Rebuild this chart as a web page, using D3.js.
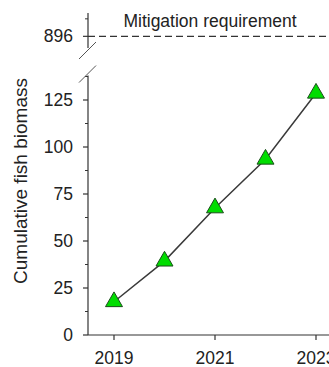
<!DOCTYPE html>
<html>
<head>
<meta charset="utf-8">
<script src="https://cdn.jsdelivr.net/npm/d3@7/dist/d3.min.js"></script>
<style>
  html, body { margin: 0; padding: 0; background: #fff; overflow: hidden; }
  svg { display: block; }
  text { font-family: "Liberation Sans", Arial, sans-serif; fill: #222; }
</style>
</head>
<body>
<script>
// ---- data ----
const years = [2019, 2020, 2021, 2022, 2023];
const biomass = [17.7, 39.3, 67.6, 93.5, 128.6];
const xTickYears = [2019, 2021, 2023];
const yMajorTicks = [0, 25, 50, 75, 100, 125];
const yMinorTicks = [12.5, 37.5, 62.5, 87.5, 112.5, 137.5];
const upperTicks = [896];
const upperMinorTicks = [903.5];
const requirement = 896;
const requirementLabel = "Mitigation requirement";
const yAxisTitle = "Cumulative fish biomass";

// ---- layout ----
const W = 329, H = 367;
const axisX = 88;
const axisY = 335;
const fontSize = 17.5;

const svg = d3.select("body").append("svg").attr("width", W).attr("height", H);

const x = d3.scaleLinear().domain([2018.5, 2023.5]).range([88.75, 88.75 + 5 * 50.5]);
const y = d3.scaleLinear().domain([0, 138]).range([axisY, axisY - 138 * 1.88]);
const yUp = d3.scaleLinear().domain([891, 906]).range([48, 13]);

const axisColor = "#333";

// lower y axis
const gy = svg.append("g").attr("transform", `translate(${axisX},0)`);
gy.append("line").attr("x1", 0).attr("x2", 0).attr("y1", y(0)).attr("y2", y(138))
  .attr("stroke", axisColor).attr("stroke-width", 1.2);
gy.selectAll(".maj").data(yMajorTicks).enter().append("line")
  .attr("x1", -5).attr("x2", 0).attr("y1", d => y(d)).attr("y2", d => y(d))
  .attr("stroke", axisColor).attr("stroke-width", 1.2);
gy.selectAll(".min").data(yMinorTicks).enter().append("line")
  .attr("x1", -3).attr("x2", 0).attr("y1", d => y(d)).attr("y2", d => y(d))
  .attr("stroke", axisColor).attr("stroke-width", 1);
gy.selectAll(".lab").data(yMajorTicks).enter().append("text")
  .attr("x", -15).attr("y", d => y(d)).attr("dy", "0.35em")
  .attr("text-anchor", "end").style("font-size", fontSize + "px").text(d => d);

// upper y axis segment
const gu = svg.append("g").attr("transform", `translate(${axisX},0)`);
gu.append("line").attr("x1", 0).attr("x2", 0).attr("y1", yUp(891)).attr("y2", yUp(906))
  .attr("stroke", axisColor).attr("stroke-width", 1.2);
gu.selectAll(".maj").data(upperTicks).enter().append("line")
  .attr("x1", -5).attr("x2", 0).attr("y1", d => yUp(d)).attr("y2", d => yUp(d))
  .attr("stroke", axisColor).attr("stroke-width", 1.2);
gu.selectAll(".min").data(upperMinorTicks).enter().append("line")
  .attr("x1", -3).attr("x2", 0).attr("y1", d => yUp(d)).attr("y2", d => yUp(d))
  .attr("stroke", axisColor).attr("stroke-width", 1);
gu.selectAll(".lab").data(upperTicks).enter().append("text")
  .attr("x", -15).attr("y", d => yUp(d)).attr("dy", "0.35em")
  .attr("text-anchor", "end").style("font-size", fontSize + "px").text(d => d);

// break marks
[[yUp(891) + 2], [y(138) - 2]].forEach(([cy]) => {
  svg.append("line")
    .attr("x1", axisX - 9).attr("y1", cy + 9)
    .attr("x2", axisX + 8).attr("y2", cy - 8)
    .attr("stroke", "#555").attr("stroke-width", 1);
});

// requirement line
svg.append("line")
  .attr("x1", axisX).attr("x2", W + 5)
  .attr("y1", yUp(requirement)).attr("y2", yUp(requirement))
  .attr("stroke", "#333").attr("stroke-width", 1.2)
  .attr("stroke-dasharray", "7,4");
svg.append("text")
  .attr("x", 210).attr("y", 27)
  .attr("text-anchor", "middle").style("font-size", fontSize + "px")
  .text(requirementLabel);

// x axis
const gx = svg.append("g");
gx.append("line").attr("x1", axisX).attr("x2", W + 5).attr("y1", axisY).attr("y2", axisY)
  .attr("stroke", axisColor).attr("stroke-width", 1.2);
gx.selectAll(".tk").data(xTickYears).enter().append("line")
  .attr("x1", d => x(d)).attr("x2", d => x(d)).attr("y1", axisY).attr("y2", axisY + 5)
  .attr("stroke", axisColor).attr("stroke-width", 1.2);
gx.selectAll(".lab").data(xTickYears).enter().append("text")
  .attr("x", d => x(d)).attr("y", 364)
  .attr("text-anchor", "middle").style("font-size", fontSize + "px").text(d => d);

// y axis title
svg.append("text")
  .attr("transform", `translate(27,181) rotate(-90)`)
  .attr("text-anchor", "middle").style("font-size", "19px")
  .text(yAxisTitle);

// data line
const pts = years.map((yr, i) => [yr, biomass[i]]);
svg.append("path").datum(pts)
  .attr("fill", "none").attr("stroke", "#3a3a3a").attr("stroke-width", 1.5)
  .attr("d", d3.line().x(d => x(d[0])).y(d => y(d[1])));

// markers
svg.selectAll(".mk").data(pts).enter().append("path")
  .attr("transform", d => `translate(${x(d[0])},${y(d[1])})`)
  .attr("d", d3.symbol().type(d3.symbolTriangle).size(125))
  .attr("fill", "#00dd00").attr("stroke", "#1b4d1b").attr("stroke-width", 1);
</script>
</body>
</html>
